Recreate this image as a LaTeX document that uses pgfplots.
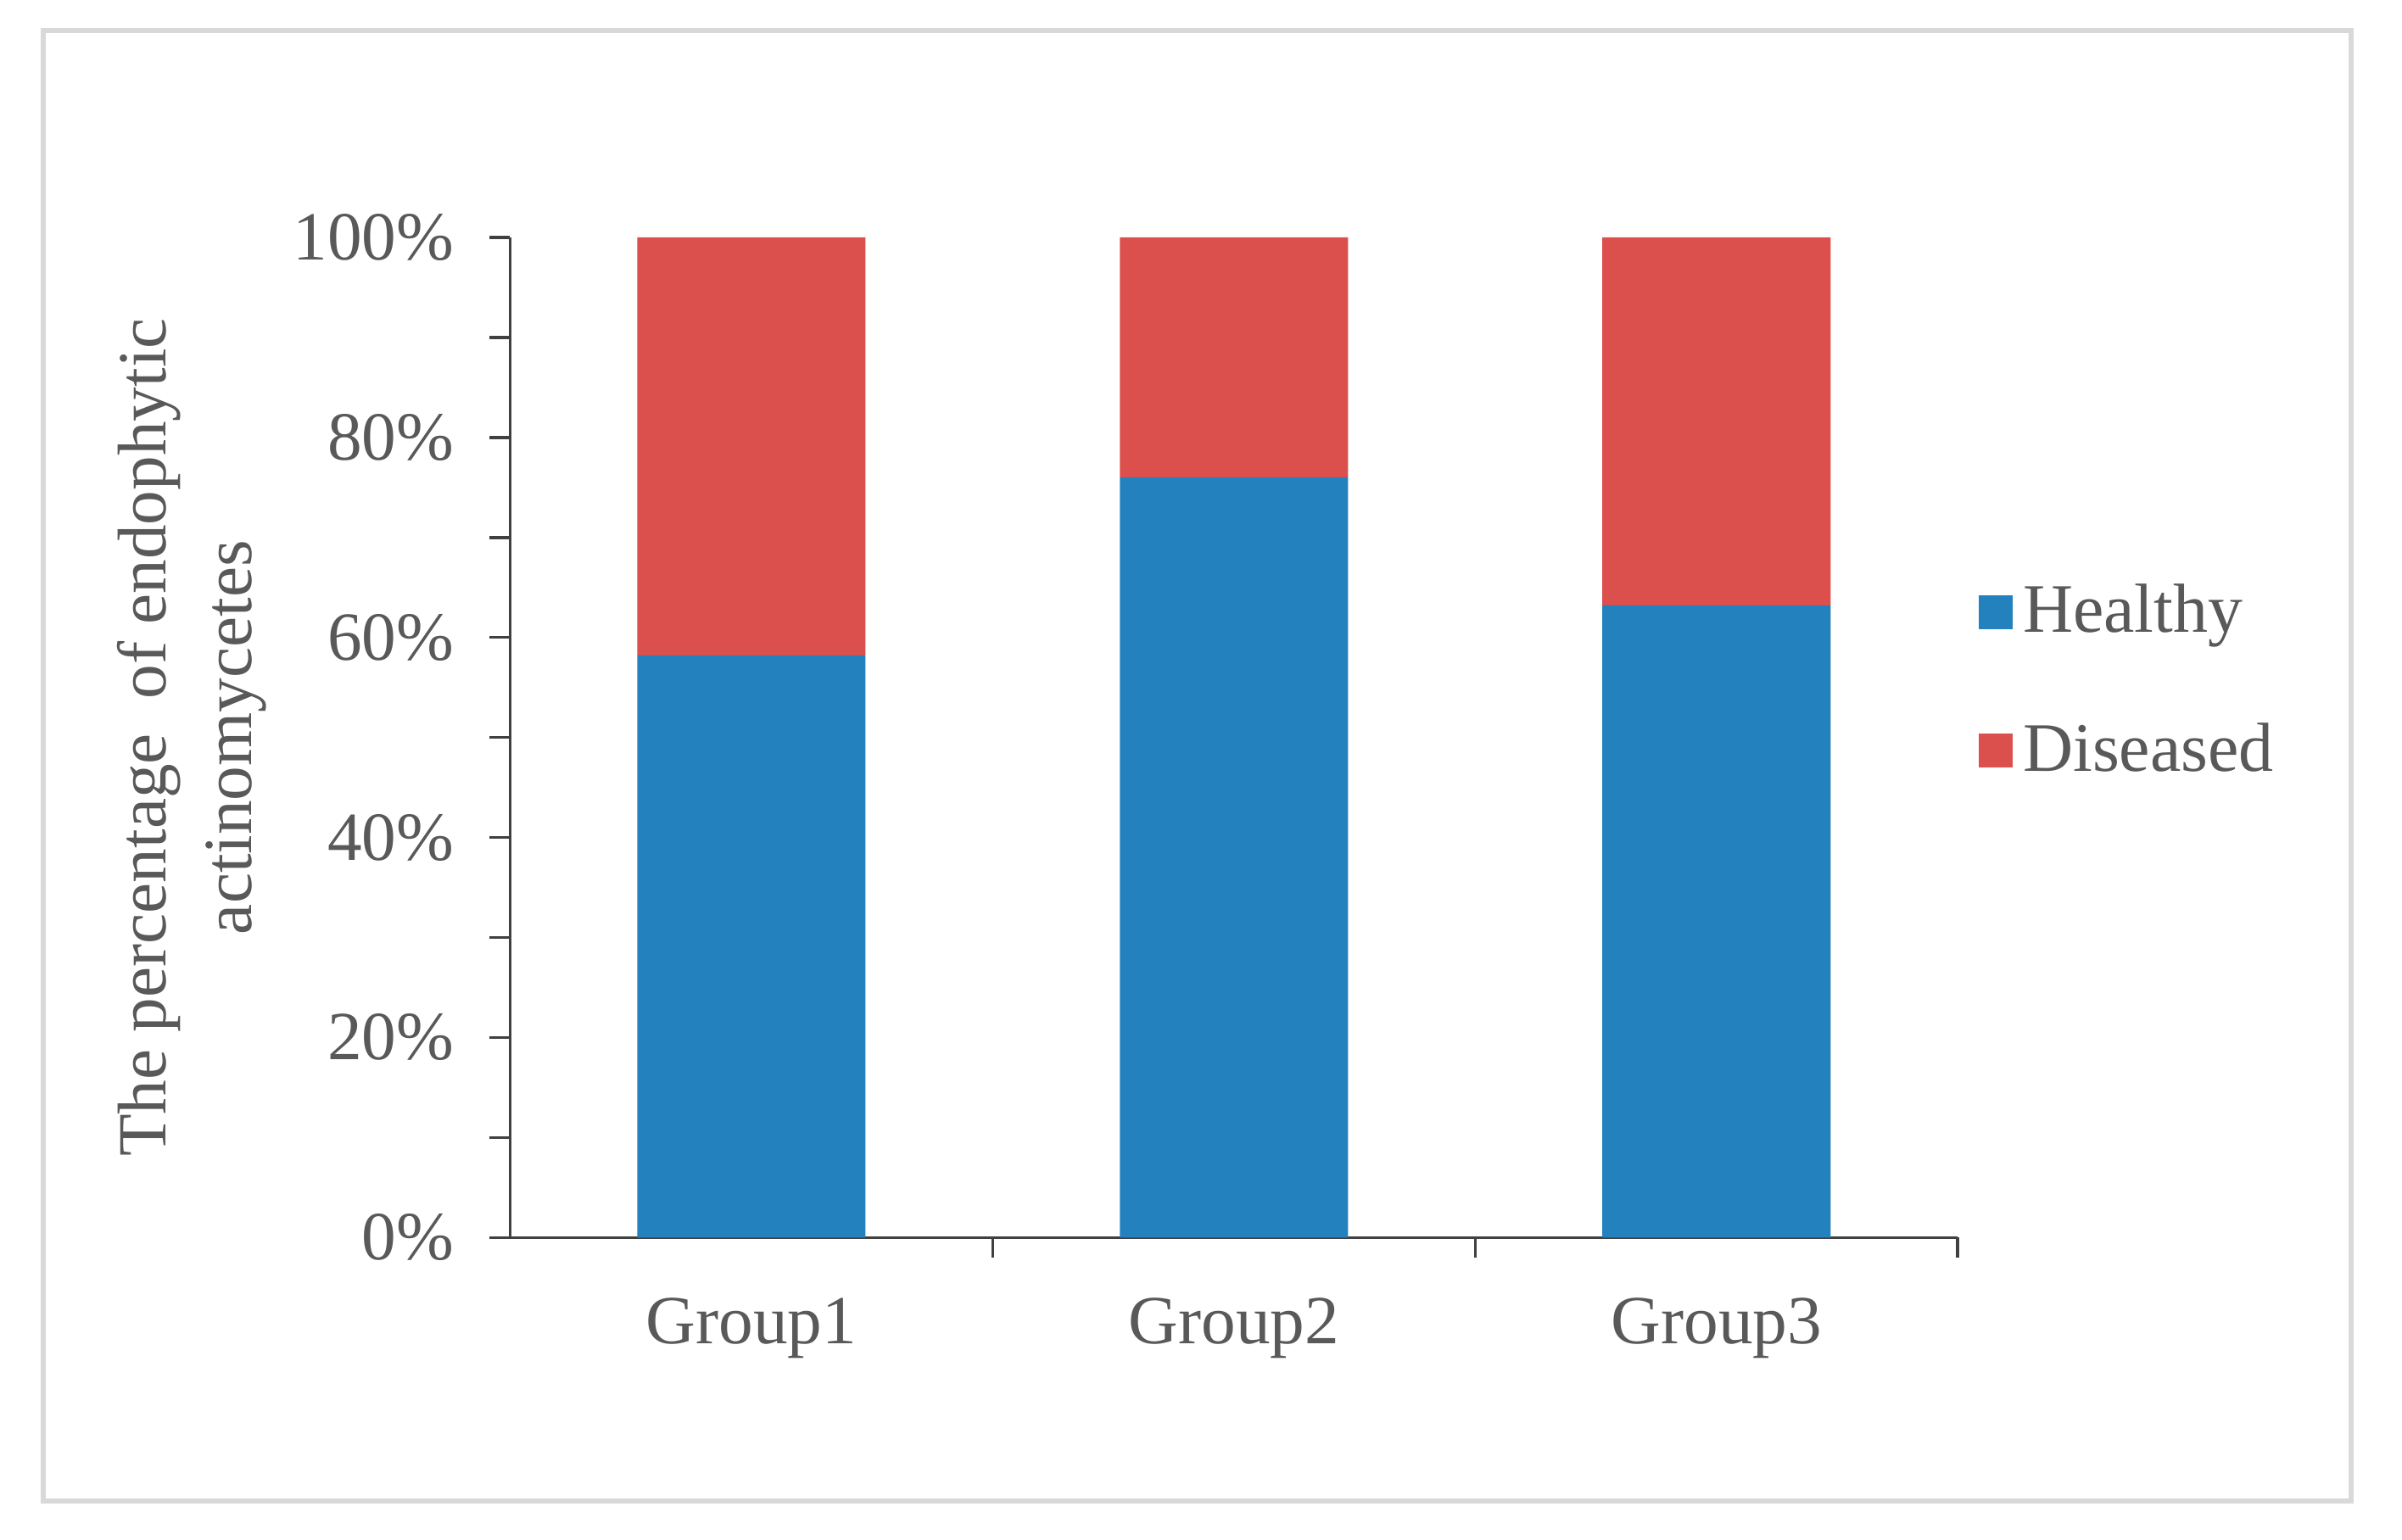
\documentclass[border=0pt]{standalone}
\usepackage{fontspec}
\setmainfont{Liberation Serif}
\usepackage{pgfplots}
\pgfplotsset{compat=1.18}
\definecolor{barblue}{HTML}{2381BE}
\definecolor{barred}{HTML}{DB4F4C}
\definecolor{txtgray}{HTML}{595959}
\definecolor{axgray}{HTML}{404040}
\definecolor{framegray}{HTML}{D9D9D9}
\begin{document}
\begin{tikzpicture}
\useasboundingbox (0,0) rectangle (470.4pt,301.5pt);
\draw[framegray, line width=1pt] (8.4pt,7.5pt) rectangle (460.5pt,295.5pt);
\begin{axis}[
  at={(99.9pt,59.1pt)}, anchor=south west,
  scale only axis,
  width=283.5pt, height=195.9pt,
  ybar stacked, bar width=44.7pt,
  xmin=-0.5, xmax=2.5, ymin=0, ymax=100,
  axis x line=bottom, axis y line=left,
  axis line style={-, axgray, line width=0.6pt},
  xtick={0,1,2}, xticklabels={Group1,Group2,Group3},
  minor xtick={0.5,1.5,2.5},
  major x tick style={draw=none},
  ytick={0,20,...,100}, minor ytick={10,30,...,90},
  tick align=outside,
  major tick length=4pt, minor tick length=4pt,
  tick style={axgray, line width=0.6pt},
  /pgf/number format/assume math mode=true,
  yticklabel={\pgfmathprintnumber{\tick}\%},
  every tick label/.append style={font=\fontsize{13.5}{16}\selectfont, text=txtgray},
  yticklabel style={xshift=-3.5pt},
  xticklabel style={yshift=-4.3pt},
  ylabel={The percentage\ \ of endophytic\\actinomycetes},
  ylabel style={at={(axis description cs:-0.22,0.5)}, anchor=center, align=center,
    font=\fontsize{13.5}{16.8}\selectfont, text=txtgray},
  legend style={draw=none, fill=none, inner sep=0pt, at={(axis description cs:1.014,0.556)}, anchor=west,
    font=\fontsize{13.6}{16}\selectfont, text=txtgray, row sep=12.2pt},
  legend cell align=left,
  legend image code/.code={\fill[#1] (0pt,-3.3pt) rectangle (6.6pt,3.3pt);},
]
\addplot[fill=barblue, draw=none] coordinates {(0,58.2) (1,76.0) (2,63.2)};
\addplot[fill=barred, draw=none] coordinates {(0,41.8) (1,24.0) (2,36.8)};
\legend{Healthy,Diseased}
\end{axis}
\end{tikzpicture}
\end{document}
